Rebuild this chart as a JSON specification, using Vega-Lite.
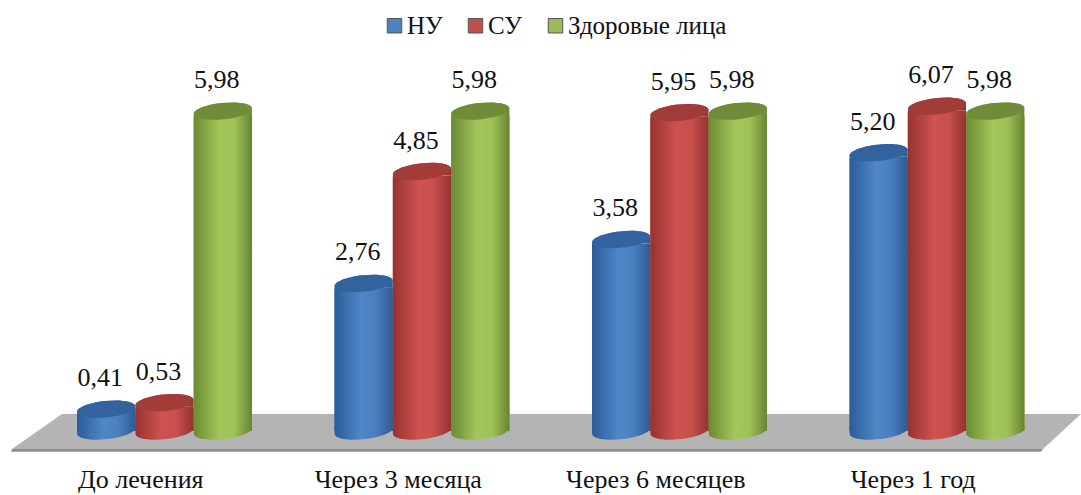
{
  "$schema": "https://vega.github.io/schema/vega-lite/v6.json",
  "width": 1081,
  "height": 465,
  "padding": {"left": 0, "top": 0, "right": 0, "bottom": 30},
  "autosize": {"type": "none"},
  "background": "white",
  "config": {
    "view": {"stroke": null},
    "font": "Liberation Serif"
  },
  "datasets": {
    "scores": [
      {"period": "До лечения", "group": "НУ", "value": 0.41},
      {"period": "До лечения", "group": "СУ", "value": 0.53},
      {"period": "До лечения", "group": "Здоровые лица", "value": 5.98},
      {"period": "Через 3 месяца", "group": "НУ", "value": 2.76},
      {"period": "Через 3 месяца", "group": "СУ", "value": 4.85},
      {"period": "Через 3 месяца", "group": "Здоровые лица", "value": 5.98},
      {"period": "Через 6 месяцев", "group": "НУ", "value": 3.58},
      {"period": "Через 6 месяцев", "group": "СУ", "value": 5.95},
      {"period": "Через 6 месяцев", "group": "Здоровые лица", "value": 5.98},
      {"period": "Через 1 год", "group": "НУ", "value": 5.20},
      {"period": "Через 1 год", "group": "СУ", "value": 6.07},
      {"period": "Через 1 год", "group": "Здоровые лица", "value": 5.98}
    ],
    "floor": [
      {"level": 0.318, "left": 62, "right": 1081},
      {"level": -0.336, "left": 12, "right": 1043}
    ],
    "floorEdge": [
      {"level": -0.336, "left": 12, "right": 1043},
      {"level": -0.39, "left": 11, "right": 1041}
    ]
  },
  "layer": [
    {
      "encoding": {
        "x": {"field": "left", "type": "quantitative", "axis": null, "scale": {"domain": [0, 1081], "range": [0, 1081]}},
        "x2": {"field": "right"},
        "y": {"field": "level", "type": "quantitative", "axis": null, "scale": {"domain": [-0.6355, 8.056], "range": [465, 0]}}
      },
      "layer": [
        {"data": {"name": "floor"}, "mark": {"type": "area", "orient": "horizontal", "fill": "#b4b4b4"}},
        {"data": {"name": "floorEdge"}, "mark": {"type": "area", "orient": "horizontal", "fill": "#8f8f8f"}}
      ]
    },
    {
      "data": {"name": "scores"},
      "transform": [
        {"calculate": "replace(format(datum.value, '.2f'), '.', ',')", "as": "valueText"}
      ],
      "encoding": {
        "x": {
          "field": "period",
          "type": "nominal",
          "sort": ["До лечения", "Через 3 месяца", "Через 6 месяцев", "Через 1 год"],
          "title": null,
          "scale": {"range": [36, 1066], "paddingInner": 0, "paddingOuter": 0},
          "axis": {
            "domain": false,
            "ticks": false,
            "labelAngle": 0,
            "labelFont": "Liberation Serif",
            "labelFontSize": 26,
            "labelColor": "#111111",
            "labelPadding": 1,
            "labelLimit": 300,
            "labelOffset": -24
          }
        },
        "xOffset": {
          "field": "group",
          "type": "nominal",
          "sort": ["НУ", "СУ", "Здоровые лица"],
          "scale": {"domain": ["НУ", "СУ", "Здоровые лица"], "range": [41, 216], "paddingInner": 0, "paddingOuter": 0}
        },
        "y": {"field": "value", "type": "quantitative", "axis": null, "stack": null, "scale": {"domain": [-0.6355, 8.056], "range": [465, 0]}}
      },
      "layer": [
        {
          "description": "Flat-coloured core of each cylinder, which also carries the legend",
          "mark": {"type": "bar", "yOffset": 6, "y2Offset": -6},
          "encoding": {
            "color": {
              "field": "group",
              "type": "nominal",
              "title": null,
              "scale": {"domain": ["НУ", "СУ", "Здоровые лица"], "range": ["#4f81bd", "#c0504d", "#9bbb59"]},
              "legend": {
                "orient": "none",
                "legendX": 382,
                "legendY": 13,
                "direction": "horizontal",
                "symbolType": "square",
                "symbolSize": 210,
                "symbolStrokeWidth": 1,
                "symbolStrokeColor": "#555555",
                "symbolOpacity": 1,
                "labelFont": "Liberation Serif",
                "labelFontSize": 25,
                "labelColor": "#111111",
                "labelLimit": 300,
                "columnPadding": 20,
                "labelOffset": 0
              }
            }
          }
        },
        {
          "encoding": {
            "fill": {
              "condition": [
                {"test": "datum.group === 'НУ'", "value": {"gradient": "linear", "x1": 0, "y1": 0, "x2": 1, "y2": 0, "stops": [{"offset": 0, "color": "#2c5c98"}, {"offset": 0.45, "color": "#4f86c8"}, {"offset": 0.7, "color": "#4a80c0"}, {"offset": 1, "color": "#2d5b94"}]}},
                {"test": "datum.group === 'СУ'", "value": {"gradient": "linear", "x1": 0, "y1": 0, "x2": 1, "y2": 0, "stops": [{"offset": 0, "color": "#98322f"}, {"offset": 0.45, "color": "#cd5350"}, {"offset": 0.7, "color": "#c84f4c"}, {"offset": 1, "color": "#933230"}]}}
              ],
              "value": {"gradient": "linear", "x1": 0, "y1": 0, "x2": 1, "y2": 0, "stops": [{"offset": 0, "color": "#6b8a34"}, {"offset": 0.45, "color": "#a3c75a"}, {"offset": 0.7, "color": "#9fc256"}, {"offset": 1, "color": "#678532"}]}
            }
          },
          "layer": [
            {"mark": {"type": "bar", "yOffset": 4, "y2Offset": -4}},
            {
              "description": "Rounded foot of each cylinder, standing on the zero line",
              "encoding": {"y": {"datum": 0, "type": "quantitative"}},
              "mark": {
                "type": "point",
                "filled": true,
                "opacity": 1,
                "size": 3364,
                "shape": "M-1,-0.14 L-1,0.11 A1,0.28 -6 0 0 1,-0.11 L1,-0.14 Z"
              }
            },
            {
              "description": "Upper rim of each cylinder body",
              "mark": {
                "type": "point",
                "filled": true,
                "opacity": 1,
                "size": 3364,
                "shape": "M-1,0.14 L-1,0.11 A1,0.28 -6 0 1 1,-0.11 L1,0.14 Z"
              }
            }
          ]
        },
        {
          "description": "Darker top face of each cylinder",
          "encoding": {
            "fill": {
              "condition": [
                {"test": "datum.group === 'НУ'", "value": "#33639f"},
                {"test": "datum.group === 'СУ'", "value": "#a23c39"}
              ],
              "value": "#6f8d38"
            }
          },
          "mark": {
            "type": "point",
            "filled": true,
            "opacity": 1,
            "size": 3364,
            "shape": "M-1,0.11 A1,0.28 -6 1 1 1,-0.11 A1,0.28 -6 1 1 -1,0.11 Z"
          }
        },
        {
          "encoding": {
            "text": {"field": "valueText", "type": "nominal"}
          },
          "mark": {"type": "text", "font": "Liberation Serif", "fontSize": 26, "dx": -6, "dy": -31, "color": "#111111"}
        }
      ]
    }
  ],
  "resolve": {"scale": {"x": "independent"}}
}
